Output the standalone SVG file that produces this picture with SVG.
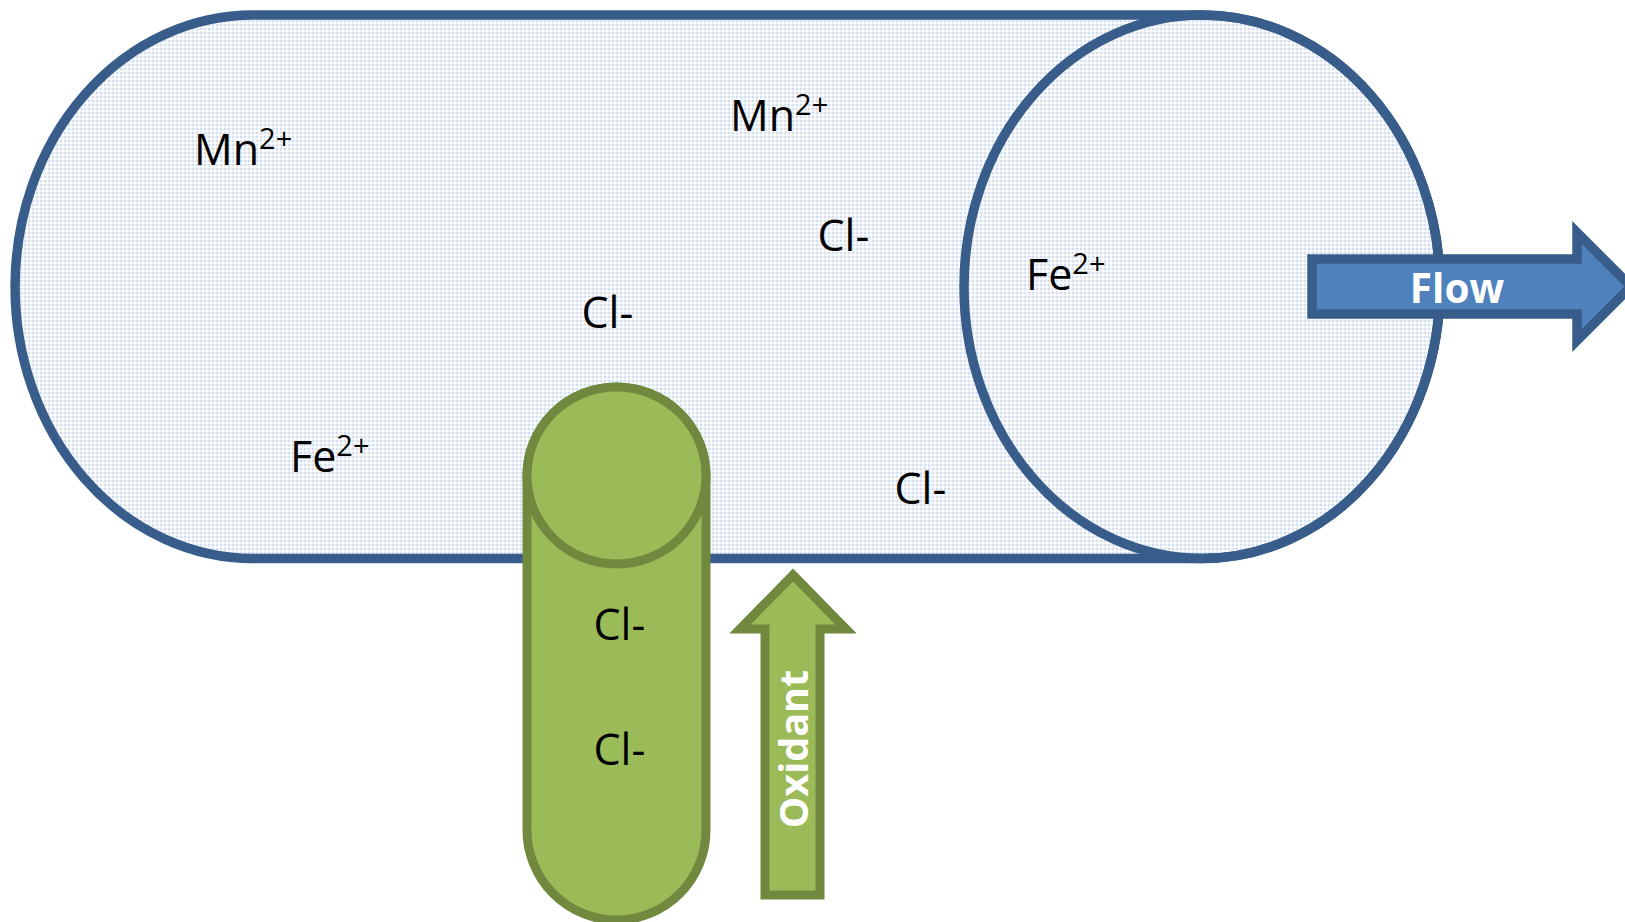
<svg xmlns="http://www.w3.org/2000/svg" width="1625" height="922" viewBox="0 0 1625 922">
<style>
.t{font-family:"Open Sans","Noto Sans",sans-serif;font-size:43px;fill:#000}
.s{font-size:29px}
.l{font-family:"Open Sans","Noto Sans",sans-serif;font-weight:700;fill:#fff}
.b{stroke:#385d8a;stroke-width:9.500;stroke-miterlimit:10}
.g{stroke:#71893f;stroke-width:9;stroke-miterlimit:10;fill:#9bbb59}
</style>
<defs>
<pattern id="dots" width="4" height="4" patternUnits="userSpaceOnUse">
<rect width="4" height="4" fill="#ffffff"/>
<rect x="0" y="0" width="4" height="2" fill="#f0f4f9"/>
<rect x="0" y="0" width="2" height="4" fill="#f0f4f9"/>
<rect x="0" y="0" width="2" height="2" fill="#d5e0ee"/>
</pattern>
</defs>
<rect width="1625" height="922" fill="#fff"/>
<g id="tube">
<path class="b" fill="url(#dots)" d="M253 15H1202A238 271.75 0 0 1 1202 558.500H253A238 271.75 0 0 1 253 15Z"/>
<ellipse class="b" fill="none" cx="1202" cy="286.75" rx="238" ry="271.75"/>
</g>
<g id="green-pipe">
<path class="g" d="M527 475.5A89.500 88.500 0 0 1 706 475.500V830A89.500 90 0 0 1 527 830Z"/>
<ellipse class="g" cx="616.5" cy="475.5" rx="89.500" ry="88.500"/>
</g>
<g id="flow-arrow">
<path class="b" fill="#4f81bd" d="M1312 259H1577V232.500L1631 286.500L1577 340.500V314H1312Z"/>
<text class="l" x="1457" y="303" font-size="40.500" text-anchor="middle">Flow</text>
</g>
<g id="oxidant-arrow">
<path class="g" d="M793 575L846 629H820V895H765V629H740Z"/>
<text class="l" transform="translate(808 749) rotate(-90)" font-size="39.500" text-anchor="middle">Oxidant</text>
</g>
<g id="labels">
<text class="t" x="194" y="165">Mn<tspan class="s" dy="-16">2+</tspan></text>
<text class="t" x="730" y="131">Mn<tspan class="s" dy="-16">2+</tspan></text>
<text class="t" x="817.5" y="251">Cl-</text>
<text class="t" x="581.5" y="328">Cl-</text>
<text class="t" x="1026" y="289.500">Fe<tspan class="s" dy="-16">2+</tspan></text>
<text class="t" x="290" y="472">Fe<tspan class="s" dy="-16">2+</tspan></text>
<text class="t" x="894.5" y="504">Cl-</text>
<text class="t" x="593.5" y="640">Cl-</text>
<text class="t" x="593.5" y="765">Cl-</text>
</g>
</svg>
